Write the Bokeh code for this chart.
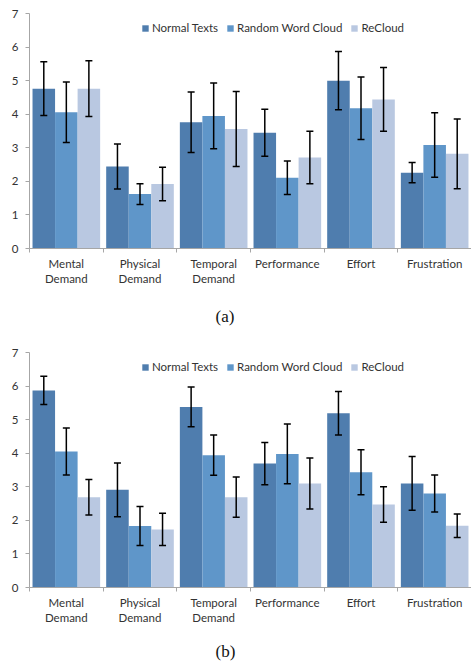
from bokeh.plotting import figure
from bokeh.models import (ColumnDataSource, Range1d, FixedTicker, Whisker, TeeHead,
                          Legend, LegendItem, Title)
from bokeh.layouts import column
from bokeh.embed import file_html
from bokeh.resources import INLINE

categories = ["Mental\nDemand", "Physical\nDemand", "Temporal\nDemand",
              "Performance", "Effort", "Frustration"]
series = ["Normal Texts", "Random Word Cloud", "ReCloud"]
y_ticks = [0, 1, 2, 3, 4, 5, 6, 7]

a_normal = [4.76, 2.44, 3.76, 3.45, 5.00, 2.26]
a_random = [4.06, 1.62, 3.95, 2.11, 4.18, 3.08]
a_recloud = [4.76, 1.92, 3.56, 2.71, 4.44, 2.82]
a_normal_err = [0.80, 0.67, 0.90, 0.70, 0.87, 0.30]
a_random_err = [0.90, 0.31, 0.98, 0.50, 0.93, 0.96]
a_recloud_err = [0.83, 0.50, 1.12, 0.78, 0.95, 1.04]

b_normal = [5.87, 2.91, 5.38, 3.69, 5.19, 3.10]
b_random = [4.05, 1.83, 3.94, 3.98, 3.43, 2.80]
b_recloud = [2.69, 1.73, 2.69, 3.10, 2.47, 1.84]
b_normal_err = [0.42, 0.80, 0.59, 0.63, 0.65, 0.80]
b_random_err = [0.70, 0.58, 0.60, 0.89, 0.67, 0.55]
b_recloud_err = [0.53, 0.48, 0.60, 0.76, 0.53, 0.35]

colors = ["#4F7DAE", "#5F96C9", "#B9C8E1"]
FONT = "Lato"
BAR_W = 0.306


def make_chart(values, errors, caption, top_border, cap_standoff):
    n = len(categories)
    p = figure(output_backend="svg", toolbar_location=None,
               frame_width=442, frame_height=235,
               x_range=Range1d(0, n), y_range=Range1d(0, 7),
               min_border_top=top_border, min_border_left=29,
               min_border_right=0, min_border_bottom=0)
    p.outline_line_color = None
    p.xgrid.grid_line_color = None
    p.ygrid.grid_line_color = None
    p.background_fill_color = "white"

    items = []
    for k, (vals, errs) in enumerate(zip(values, errors)):
        xs = [i + 0.5 + (k - 1) * BAR_W for i in range(n)]
        src = ColumnDataSource(dict(
            x=xs, top=vals,
            upper=[v + e for v, e in zip(vals, errs)],
            lower=[v - e for v, e in zip(vals, errs)]))
        r = p.vbar(x="x", top="top", bottom=0, width=BAR_W, source=src,
                   fill_color=colors[k], line_color=None)
        items.append(LegendItem(label=series[k], renderers=[r]))
        w = Whisker(source=src, base="x", upper="upper", lower="lower",
                    dimension="height", level="overlay",
                    line_color="black", line_width=1.5,
                    upper_head=TeeHead(size=7, line_color="black", line_width=1.5),
                    lower_head=TeeHead(size=7, line_color="black", line_width=1.5))
        p.add_layout(w)

    legend = Legend(items=items, orientation="horizontal", location=(112, 214),
                    padding=0, margin=0, spacing=8, glyph_width=8, glyph_height=8,
                    label_standoff=3, border_line_color=None,
                    background_fill_alpha=0, label_text_font=FONT,
                    label_text_font_size="11.5px", label_text_color="#333333",
                    label_height=10)
    p.add_layout(legend)

    ya = p.yaxis[0]
    ya.ticker = FixedTicker(ticks=y_ticks)
    ya.axis_line_color = "#A6A6A6"
    ya.major_tick_line_color = "#A6A6A6"
    ya.major_tick_out = 4
    ya.major_tick_in = 0
    ya.minor_tick_line_color = None
    ya.major_label_text_font = FONT
    ya.major_label_text_font_size = "11.5px"
    ya.major_label_text_color = "#333333"
    ya.major_label_standoff = 7

    xa = p.xaxis[0]
    xa.ticker = FixedTicker(ticks=[i + 0.5 for i in range(n)],
                            minor_ticks=list(range(n + 1)))
    xa.major_label_overrides = {i + 0.5: c for i, c in enumerate(categories)}
    xa.axis_line_color = "#A6A6A6"
    xa.major_tick_line_color = None
    xa.minor_tick_line_color = "#A6A6A6"
    xa.minor_tick_out = 4
    xa.minor_tick_in = 0
    xa.major_label_text_font = FONT
    xa.major_label_text_font_size = "11.5px"
    xa.major_label_text_color = "#333333"
    xa.major_label_standoff = 2

    t = Title(text=caption, align="left", offset=186, standoff=cap_standoff,
              text_font="Liberation Serif", text_font_size="17px",
              text_font_style="normal", text_color="#111111")
    p.add_layout(t, "below")
    return p


pa = make_chart([a_normal, a_random, a_recloud],
                [a_normal_err, a_random_err, a_recloud_err], "(a)", 13, 32)
pb = make_chart([b_normal, b_random, b_recloud],
                [b_normal_err, b_random_err, b_recloud_err], "(b)", 11, 24)

layout = column(pa, pb, spacing=0)
open("out.html", "w").write(file_html(layout, INLINE))
